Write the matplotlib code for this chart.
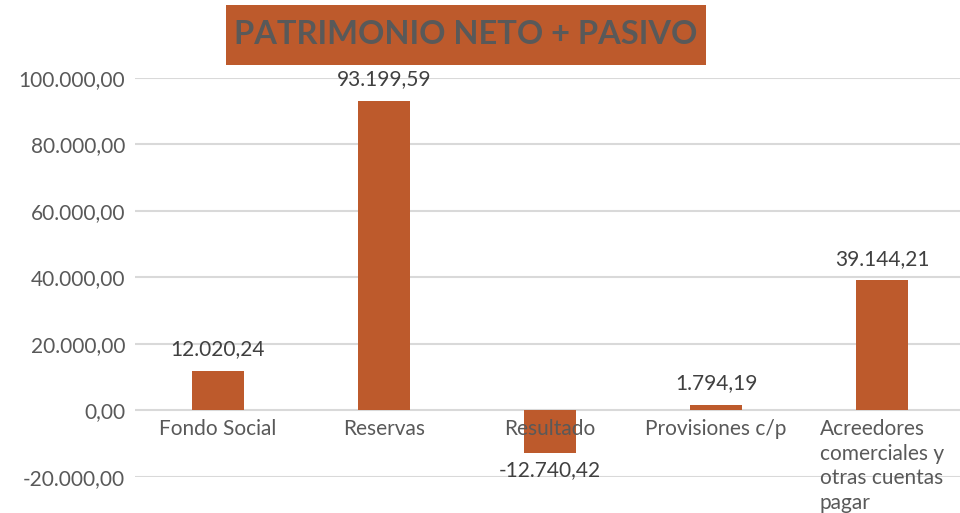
import matplotlib
matplotlib.use('Agg')
from matplotlib import pyplot as plt
from matplotlib.patches import Rectangle

# data
categories = ['Fondo Social', 'Reservas', 'Resultado', 'Provisiones c/p',
              'Acreedores\ncomerciales y\notras cuentas\npagar']
values = [12020.24, 93199.59, -12740.42, 1794.19, 39144.21]
y_ticks = [-20000, 0, 20000, 40000, 60000, 80000, 100000]

bar_color = '#BD5A2C'
grid_color = '#D9D9D9'
tick_color = '#595959'
label_color = '#404040'

plt.rcParams['font.family'] = ['Lato', 'DejaVu Sans']


def es_fmt(v):
    # spanish number format: 93.199,59
    s = f'{v:,.2f}'
    return s.replace(',', 'X').replace('.', ',').replace('X', '.')


fig = plt.figure(figsize=(9.6, 5.13), dpi=100)
ax = fig.add_axes([0.1406, 0.0702, 0.8646, 0.7778])

x = list(range(len(categories)))
ax.bar(x, values, width=0.313, color=bar_color, zorder=2)

ax.set_xlim(-0.5, len(categories) - 0.5)
ax.set_ylim(y_ticks[0], y_ticks[-1])
ax.set_yticks(y_ticks)
ax.set_yticklabels([es_fmt(v) for v in y_ticks])
ax.tick_params(axis='y', length=0, pad=7, labelsize=15, labelcolor=tick_color)
ax.set_xticks([])
ax.grid(axis='y', color=grid_color, linewidth=1.5)
ax.set_axisbelow(True)
for s in ax.spines.values():
    s.set_visible(False)

# category labels sit just under the zero line, on top of the bars
for i, name in enumerate(categories):
    ax.annotate(name, (i, 0), xytext=(0, -6), textcoords='offset points',
                ha='center', va='top', multialignment='left',
                fontsize=15, color=tick_color, zorder=5,
                linespacing=1.3, annotation_clip=False)

# value labels
for i, v in enumerate(values):
    if v >= 0:
        ax.annotate(es_fmt(v), (i, v), xytext=(0, 8), textcoords='offset points',
                    ha='center', va='bottom', fontsize=15, color=label_color,
                    annotation_clip=False)
    else:
        ax.annotate(es_fmt(v), (i, v), xytext=(0, -5), textcoords='offset points',
                    ha='center', va='top', fontsize=15, color=label_color,
                    annotation_clip=False)

# title in an orange box
fig.patches.append(Rectangle((226 / 960, 1 - 65 / 513), 480 / 960, 60 / 513,
                             transform=fig.transFigure, facecolor=bar_color,
                             edgecolor='none', zorder=0))
fig.text(466 / 960, 1 - 34 / 513, 'PATRIMONIO NETO + PASIVO', ha='center',
         va='center', fontsize=23.5, fontweight='bold', color='#595959')

fig.savefig('out.png', dpi=100)
